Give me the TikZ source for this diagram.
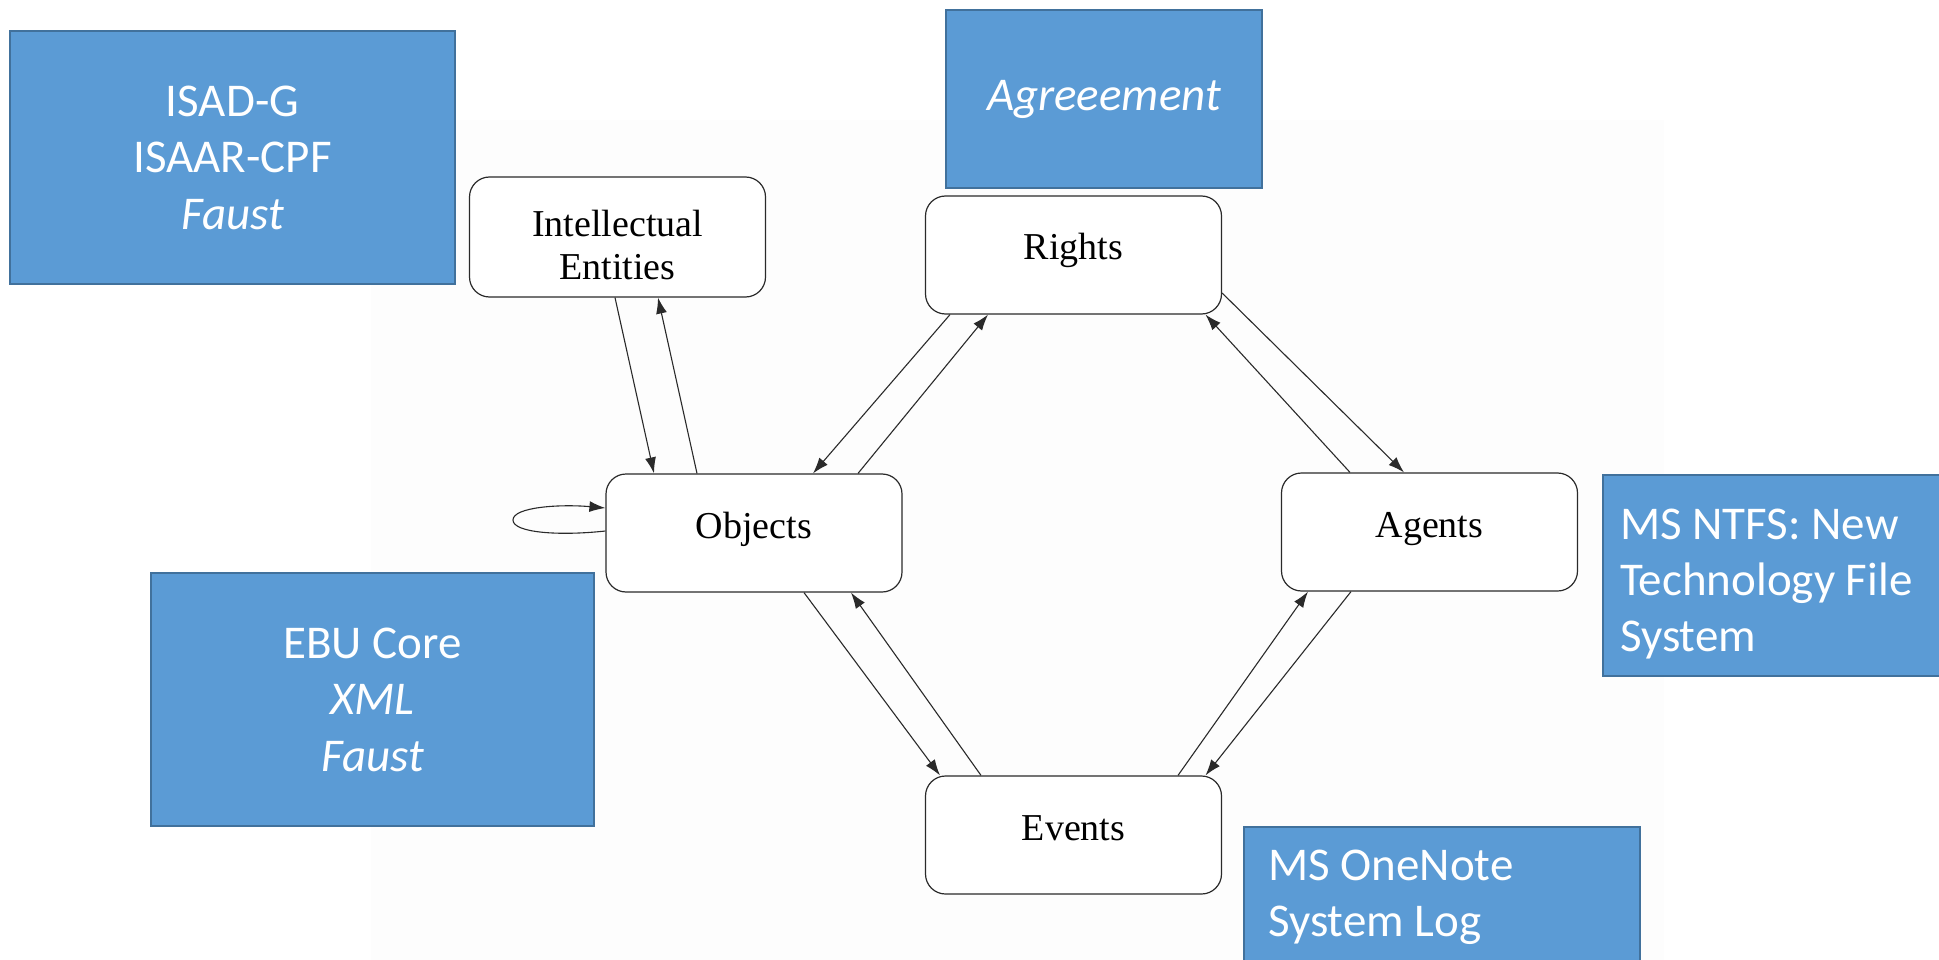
\documentclass[tikz,border=0pt]{standalone}
\usepackage{fontspec}
\setmainfont{Liberation Serif}
\newfontfamily\calibrifont{Carlito}
\usetikzlibrary{arrows.meta}
\definecolor{boxblue}{HTML}{5B9BD5}
\definecolor{boxedge}{HTML}{41719C}
\definecolor{scanbg}{HTML}{FDFDFD}
\definecolor{linegray}{HTML}{2A2A2A}
\begin{document}
\begin{tikzpicture}[x=1pt,y=-1pt,
  entity/.style={draw=linegray, line width=1.2pt, rounded corners=20pt, fill=white,
    minimum width=296pt, minimum height=118pt, inner sep=0pt,
    font=\fontsize{38}{43}\selectfont, text height=26.6pt, text depth=16.6pt},
  entitytwo/.style={draw=linegray, line width=1.2pt, rounded corners=20pt, fill=white,
    minimum width=296pt, minimum height=120pt, inner sep=0pt, align=center,
    font=\fontsize{38}{43}\selectfont},
  link/.style={draw=linegray, line width=1.1pt, -{Latex[length=16pt,width=11pt]}},
  bluebox/.style={draw=boxedge, line width=2pt, fill=boxblue, text=white,
    font=\fontsize{47}{56.5}\calibrifont\selectfont, align=center, inner sep=0pt},
  bluetext/.style={text=white, font=\fontsize{47}{56}\calibrifont\selectfont,
    align=left, inner sep=0pt}]
\useasboundingbox (0,0) rectangle (1939,960);
\fill[white] (0,0) rectangle (1939,960);
\fill[scanbg] (371,120) rectangle (1664,960);

% diagram entities
\node[entitytwo] (ie) at (617.5,237) {\rule{0pt}{42pt}Intellectual\\Entities};
\node[entity] (objects) at (754,533) {Objects};
\node[entity] (rights) at (1073.5,255) {Rights};
\node[entity] (agents) at (1429.5,532) {Agents};
\node[entity] (events) at (1073.5,835) {Events};

% connectors
\draw[link] ([xshift=-2.5pt]ie.south) -- ([xshift=-100pt]objects.north);
\draw[link] ([xshift=-57pt]objects.north) -- ([xshift=40.5pt]ie.south);
\draw[link] ([xshift=-123.5pt]rights.south) -- ([xshift=59pt]objects.north);
\draw[link] ([xshift=104pt]objects.north) -- ([xshift=-85.5pt]rights.south);
\draw[link] ([yshift=-38pt]rights.east) -- ([xshift=-25.5pt]agents.north);
\draw[link] ([xshift=-79.5pt]agents.north) -- ([xshift=132pt]rights.south);
\draw[link] ([xshift=-78.5pt]agents.south) -- ([xshift=132pt]events.north);
\draw[link] ([xshift=104.5pt]events.north) -- ([xshift=-121.5pt]agents.south);
\draw[link] ([xshift=50pt]objects.south) -- ([xshift=-133.5pt]events.north);
\draw[link] ([xshift=-92.5pt]events.north) -- ([xshift=97pt]objects.south);
\draw[link] ([yshift=2pt]objects.west) .. controls (560,536) and (513,533) .. (513,520)
  .. controls (513,507) and (560,504) .. ([yshift=25pt]objects.west);

% blue annotation boxes
\node[bluebox, minimum width=445pt, minimum height=253pt] (isad) at (232.5,157.5)
  {ISAD-G\\ISAAR-CPF\\\textit{Faust}};
\node[bluebox, minimum width=316pt, minimum height=178pt] (agree) at (1104,99)
  {\textit{Agreeement}};
\node[bluebox, minimum width=443pt, minimum height=253pt] (ebu) at (372.5,699.5)
  {EBU Core\\\textit{XML}\\\textit{Faust}};
\node[bluebox, anchor=north west, minimum width=340pt, minimum height=201pt] (ntfs) at (1602,474) {};
\node[bluetext, anchor=west] (ntfstext) at (1620,584) {MS NTFS: New\\Technology File\\System};
\node[bluebox, anchor=north west, minimum width=396pt, minimum height=140pt] (onenote) at (1243,826) {};
\node[bluetext, anchor=west] (onenotetext) at (1268,897) {MS OneNote\\System Log};
\end{tikzpicture}
\end{document}
